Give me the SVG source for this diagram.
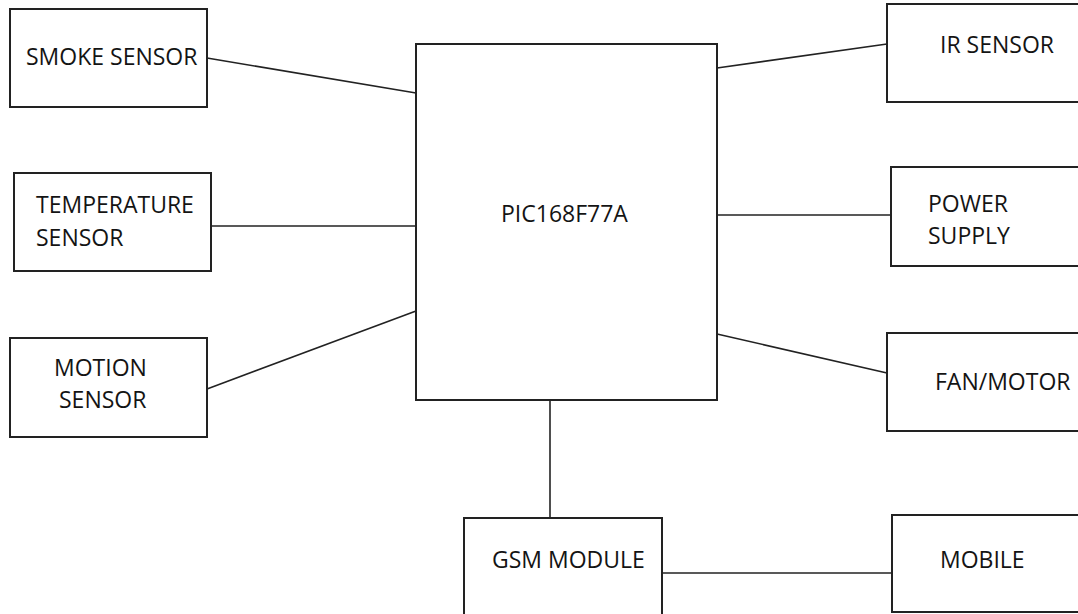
<svg xmlns="http://www.w3.org/2000/svg" width="1078" height="614" viewBox="0 0 1078 614">
<style>
.box{fill:#fff;stroke:#222;stroke-width:2}
.ln{stroke:#222;stroke-width:1.6;fill:none}
text{font-family:"Open Sans","Liberation Sans",sans-serif;font-size:23px;fill:#141414}
</style>
<rect width="1078" height="614" fill="#fff"/>
<g id="connectors">
<line class="ln" x1="207" y1="58" x2="416" y2="93"/>
<line class="ln" x1="211" y1="226" x2="416" y2="226"/>
<line class="ln" x1="207" y1="389" x2="416" y2="311"/>
<line class="ln" x1="717" y1="68" x2="887" y2="44"/>
<line class="ln" x1="717" y1="215" x2="891" y2="215"/>
<line class="ln" x1="717" y1="334" x2="887" y2="373"/>
<line class="ln" x1="550" y1="400" x2="550" y2="518"/>
<line class="ln" x1="662" y1="573" x2="892" y2="573"/>
</g>
<g id="smoke"><rect class="box" x="10" y="9" width="197" height="98"/><text x="26" y="65">SMOKE SENSOR</text></g>
<g id="temperature"><rect class="box" x="14" y="173" width="197" height="98"/><text x="36" y="213">TEMPERATURE</text><text x="36" y="246">SENSOR</text></g>
<g id="motion"><rect class="box" x="10" y="338" width="197" height="99"/><text x="54" y="376">MOTION</text><text x="59" y="408">SENSOR</text></g>
<g id="pic"><rect class="box" x="416" y="44" width="301" height="356"/><text x="501" y="222">PIC168F77A</text></g>
<g id="ir"><rect class="box" x="887" y="4" width="200" height="98"/><text x="940" y="53">IR SENSOR</text></g>
<g id="power"><rect class="box" x="891" y="167" width="200" height="99"/><text x="928" y="212">POWER</text><text x="928" y="244">SUPPLY</text></g>
<g id="fan"><rect class="box" x="887" y="333" width="200" height="98"/><text x="935" y="390">FAN/MOTOR</text></g>
<g id="gsm"><rect class="box" x="464" y="518" width="198" height="110"/><text x="492" y="568">GSM MODULE</text></g>
<g id="mobile"><rect class="box" x="892" y="515" width="200" height="97"/><text x="940" y="568">MOBILE</text></g>
</svg>
